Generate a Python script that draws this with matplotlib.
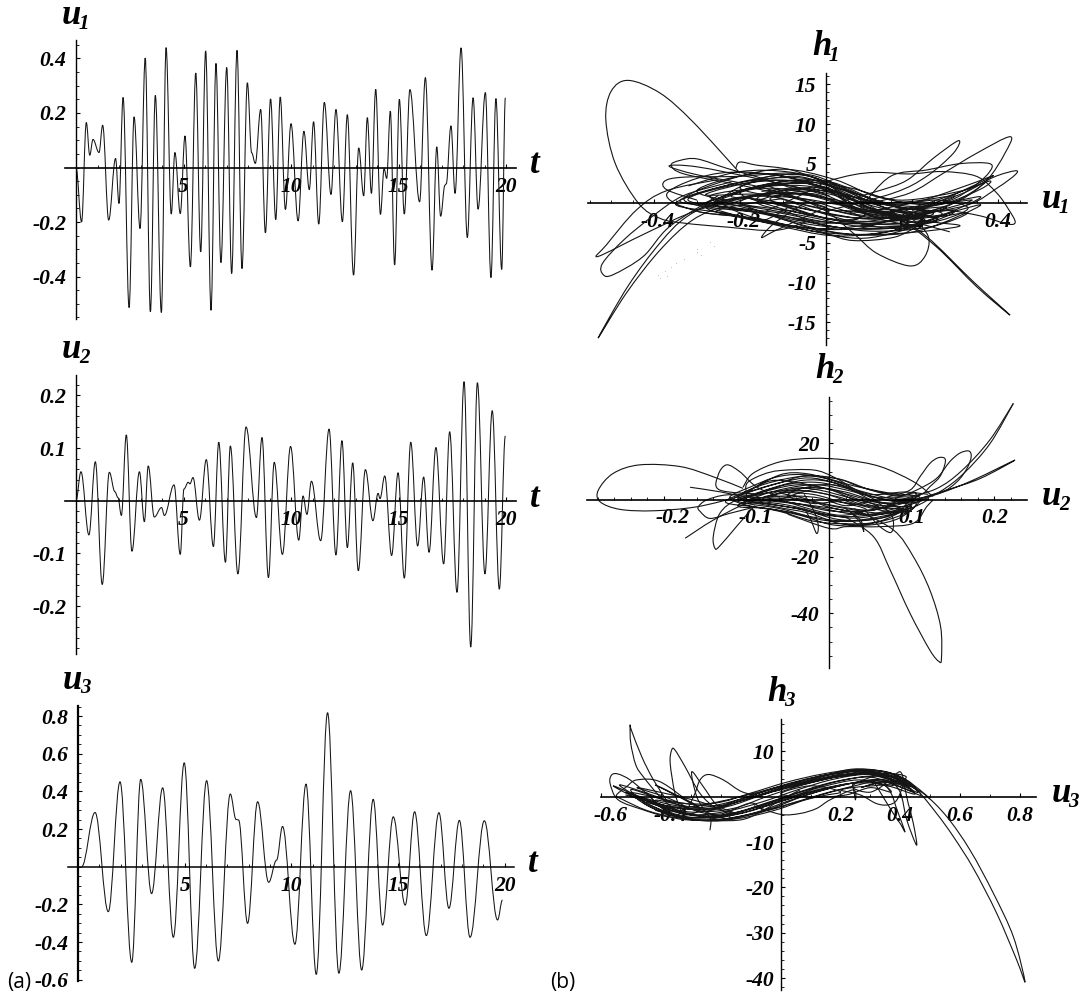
import numpy as np
import matplotlib
matplotlib.use('Agg')
import matplotlib.pyplot as plt
from matplotlib.path import Path
from matplotlib.patches import PathPatch
from matplotlib.ticker import MultipleLocator
from matplotlib.transforms import Affine2D

W, H = 1082, 1000

# time series, read at every turning point
u1_t = [0,.26,.48,.64,.79,1.07,1.24,1.52,1.84,2.0,2.19,2.47,2.70,2.98,3.22,3.46,3.69,3.97,4.19,4.43,4.60,4.85,5.07,5.32,5.57,5.80,6.03,6.28,6.51,6.74,7.01,7.24,7.49,7.72,7.97,8.17,8.34,8.59,8.81,9.05,9.29,9.50,9.74,10.0,10.33,10.6,10.85,11.05,11.29,11.55,11.86,12.09,12.39,12.62,12.91,13.15,13.38,13.55,13.74,13.94,14.16,14.33,14.45,14.62,14.82,15.04,15.27,15.53,15.98,16.25,16.56,16.78,16.96,17.16,17.22,17.44,17.63,17.91,18.2,18.47,18.7,19.04,19.3,19.53,19.8,19.97]
u1_v = [0,-.20,.165,.045,.103,.055,.155,-.193,.033,-.132,.257,-.514,.186,-.224,.402,-.53,.265,-.532,.44,-.171,.055,-.169,.116,-.365,.347,-.31,.428,-.524,.382,-.349,.367,-.389,.43,-.371,.311,.054,.015,.213,-.24,.252,-.191,.259,-.154,.161,-.196,.133,-.081,.168,-.208,.239,-.099,.213,-.199,.194,-.395,.072,-.104,.183,-.095,.287,-.172,-.004,-.04,.207,-.358,.25,-.171,.286,-.126,.33,-.377,.076,-.179,-.065,-.06,.153,-.095,.439,-.257,.256,-.153,.275,-.404,.253,-.374,.256]

u2_t = [0,.23,.60,.90,1.22,1.55,1.81,1.95,2.11,2.34,2.60,2.95,3.18,3.36,3.64,3.98,4.11,4.56,4.85,5.02,5.22,5.3,5.44,5.74,6.06,6.39,6.64,6.95,7.18,7.53,7.91,8.39,8.65,8.95,9.22,9.6,9.98,10.36,10.56,10.74,10.95,11.38,11.77,12.09,12.37,12.62,12.87,13.13,13.46,13.81,14.05,14.14,14.36,14.68,14.98,15.27,15.57,15.89,16.17,16.42,16.74,17.1,17.38,17.72,18.05,18.36,18.67,19.02,19.36,19.69,19.97]
u2_v = [0,.055,-.065,.074,-.159,.054,.017,.006,-.028,.125,-.096,.055,-.04,.066,-.031,-.013,-.028,.03,-.102,.022,.035,.032,.044,-.037,.078,-.087,.111,-.117,.104,-.139,.14,-.032,.12,-.146,.073,-.102,.103,-.075,.009,-.026,.037,-.076,.136,-.103,.114,-.089,.072,-.133,.059,-.038,.014,.004,.047,-.104,.053,-.147,.111,-.086,.045,-.098,.101,-.12,.131,-.174,.226,-.278,.224,-.139,.171,-.168,.123]

u3_t = [.17,.8,1.42,1.97,2.52,2.94,3.45,3.97,4.47,4.98,5.47,6.03,6.58,7.14,7.41,7.53,7.95,8.42,8.94,9.31,9.59,10.17,10.69,11.17,11.7,12.23,12.78,13.3,13.84,14.28,14.78,15.34,15.78,16.33,16.92,17.39,17.88,18.38,19.05,19.67,19.9]
u3_v = [0,.288,-.239,.451,-.508,.464,-.143,.419,-.375,.552,-.54,.457,-.501,.386,.251,.248,-.301,.345,-.083,.035,.214,-.412,.439,-.572,.818,-.566,.404,-.549,.358,-.31,.265,-.204,.292,-.366,.287,-.221,.246,-.375,.244,-.283,-.177]

# phase portrait h1 against u1
h1_big_loop = [(-.20,3.8),(-.31,10.3),(-.386,13.9),(-.46,15.5),(-.50,14.1),(-.512,10.5),(-.49,5),(-.436,0),(-.386,-1.9),(-.33,-2.5),(-.23,-3),(-.115,-3.4),(-.03,-2)]
h1_left_tail = [(-.115,1.7),(-.23,-.2),(-.31,-2.1),(-.386,-5.9),(-.464,-11.3),(-.53,-17),(-.46,-10.4),(-.386,-5),(-.324,-1.7),(-.23,.8),(-.115,2.4),(0,1)]
h1_loop_a = [(-.25,1),(-.363,-2.9),(-.425,-6.7),(-.495,-9),(-.518,-9),(-.52,-7.6),(-.47,-4.6),(-.40,-1.5),(-.33,1),(-.22,2.7)]
h1_loop_b = [(-.15,1.2),(-.3,-.9),(-.42,-3.8),(-.53,-6.7),(-.51,-5.2),(-.44,-.8),(-.37,1.6),(-.25,3)]
h1_right_tail = [(.08,-.4),(.172,-2.1),(.257,-5.5),(.35,-10.5),(.428,-14.1),(.343,-9.9),(.234,-4.2),(.156,-1.7),(.05,-.5)]
h1_low_loop = [(-.13,2.1),(-.006,-.8),(.064,-3.8),(.118,-6.3),(.195,-7.9),(.23,-6.7),(.238,-4.2),(.2,-2),(.14,-1)]
h1_lobe_f = [(0,-1),(.157,1.3),(.234,3.4),(.296,6.3),(.308,7.9),(.25,5.7),(.188,2.9),(.118,1.5),(.02,0)]
h1_lobe_g = [(.1,-1),(.234,-1),(.312,.4),(.374,2.9),(.416,6.3),(.428,8.4),(.35,6.3),(.273,3.8),(.195,1.3),(.1,0)]
h1_lobe_h = [(.2,-1.5),(.33,-.2),(.40,2),(.44,3.6),(.44,4.1),(.39,3.3),(.32,1.3),(.22,-.5)]
h1_top_arc = [(-.14,-1),(-.04,1.5),(0,2.7),(.064,3.6),(.118,3.9),(.195,3.7),(.27,4),(.35,3.4),(.397,1.3),(.425,-.8),(.44,-2.4),(.42,-2.6),(.36,-1.6),(.28,-.8)]
h1_lobe_i = [(.08,-.5),(.15,3.4),(.234,4.2),(.312,5),(.381,5),(.378,3.8),(.34,2),(.29,.4),(.2,-.9)]
h1_low_arc = [(-.1,-2),(0,-3.8),(.064,-4.7),(.157,-4.3),(.21,-3)]
h1_spur_r = [(.05,-1),(.16,-1.8),(.288,-3.6)]
h1_lobe_l1 = [(0,-.5),(-.15,2),(-.3,3.6),(-.365,4.7),(-.30,4.6),(-.15,3),(-.03,1.5)]
h1_lobe_l2 = [(-.05,.5),(-.2,2.3),(-.33,3.7),(-.36,4.8),(-.34,5.4),(-.30,5.6),(-.23,4.4),(-.14,3),(-.03,1)]
h1_lobe_l3 = [(-.21,4.4),(-.2,5.2),(-.16,4.8),(-.08,4.2),(0,2.5),(.06,.5)]
h1_lobe_l4 = [(-.3,.4),(-.37,1.7),(-.375,2.8),(-.33,3.3),(-.2,3.4),(-.08,3.8),(0,2.7),(.1,.2)]
h1_spur_l = [(-.05,0),(-.12,-2.5),(-.15,-4.3),(-.12,-3.5),(-.06,-2),(0,-.5)]
h1_small = [(-.09,-.6),(-.15,-2.2),(-.215,-1.5),(-.255,-1),(-.2,-.2),(-.1,.6)]
h1_tangle = [(-.30,-.3),(-.18,1.8),(-.05,2.2),(.08,.6),(.22,-.9),(.30,-1.0),
    (.22,-2.6),(.08,-2.9),(-.05,-1.6),(-.18,-.4),(-.26,.2),(-.14,2.4),(0,2.8),(.12,.3),(.24,-1.6),(.33,-1.2),
    (.24,-3.0),(.10,-3.5),(-.04,-2.4),(-.2,-.7),(-.34,.3),(-.2,2.6),(-.06,3.2),(.06,1.4),(.18,-.6),(.28,-.5),
    (.18,-2.0),(.05,-2.2),(-.08,-1.0),(-.2,.1),(-.1,1.6),(.02,1.4),(.14,-.6),(.2,-1.4),(.1,-2.0),(-.02,-1.0),
    (-.14,.4),(-.22,1.0),(-.08,2.9),(.03,1.8),(.16,-1.0),(.26,-2.0),(.14,-3.2),(-.02,-2.8),(-.16,-1.2),(-.28,-.2),
    (-.16,1.9),(-.03,2.4),(.1,-.2),(.2,-1.2),(.3,-.9),(.18,-2.9),(.04,-3.1),(-.1,-1.6),(-.24,-.5),(-.32,.6),
    (-.18,2.9),(-.04,3.6),(.08,1.0),(.2,-.4),(.34,.4),(.2,-1.6),(.06,-1.8),(-.06,-.6),(-.16,.6),(-.06,1.9),
    (.04,.9),(.13,-1.1),(.23,-2.1),(.12,-2.6),(0,-1.9),(-.12,-.4),(-.2,1.5),(-.06,2.6),(.06,.9),(.15,-.3),
    (.25,-1.3),(.15,-2.3),(.02,-2.5),(-.11,-1.2),(-.26,-.1),(-.12,1.2),(0,.6),(.1,-1.3),(.18,-2.1),(.07,-1.4),
    (-.04,-.3),(-.15,1.1),(-.28,1.1),(-.14,2.9),(-.01,2.1),(.11,-.8),(.22,-1.9),(.36,-.2),(.22,-3.4),(.08,-4.0),
    (-.06,-3.0),(-.18,-1.8),(-.3,-.9),(-.18,.8),(-.07,1.3),(.05,.1),(.17,-1.6),(.1,-.9),(-.03,.4),(-.1,.9)]
h1_tangle_wide = [(-.32,2.2),(-.2,4.0),(-.08,3.9),(.03,2.2),(.14,-.2),(.27,-1.3),(.16,-3.4),(.02,-4.1),(-.12,-2.7),(-.25,-.9),(-.33,.6),
    (-.22,3.1),(-.1,4.3),(.02,3.0),(.12,.8),(.24,-.2),(.36,.8),(.25,-1.9),(.12,-3.8),(-.02,-3.6),(-.15,-2.0),(-.3,-1.0),
    (-.37,1.2),(-.26,3.7),(-.12,3.6),(0,1.6),(.1,-1.4),(.21,-2.6),(.09,-4.4),(-.04,-3.4),(-.19,-1.4),(-.24,.6),
    (-.14,3.3),(-.03,3.3),(.07,.3),(.19,.2),(.3,.9),(.2,-1.2),(.07,-3.2),(-.07,-2.9),(-.23,-1.3),(-.35,-.1),
    (-.24,2.0),(-.1,2.9),(.05,2.0),(.17,.4),(.31,1.5),(.37,2.6),(.28,-.3),(.13,-2.4),(-.01,-3.2),(-.14,-2.4),(-.28,-.5),
    (-.16,1.1),(-.05,1.1),(.09,-1.0),(.24,-2.3),(.31,-2.9),(.17,-3.8),(.04,-3.8),(-.09,-2.2),(-.2,-.1),(-.3,1.6),
    (-.17,3.7),(-.05,2.8),(.06,.4),(.16,-.2),(.26,.4),(.33,-.7),(.23,-2.6),(.1,-2.6),(-.03,-2.2),(-.16,-.9),(-.27,.9),
    (-.13,1.9),(-.01,.8),(.12,-1.9),(.22,-3.1),(.12,-3.0),(0,-1.4),(-.1,.5),(-.2,2.0),(-.07,3.4),(.05,1.2),(.15,-1.4),(.28,-1.6)]
h1_right_fan = [(.1,-.9),(.2,-.5),(.3,1.2),(.38,2.8),(.36,1.8),(.27,-.1),(.15,-1),(.24,-.2),(.33,1.9),(.39,3.5),(.33,2.3),(.22,.3),(.12,-.8)]
h1_core = [(-.15,1.5),(-.05,1.9),(.03,.3),(.09,-1.5),(.02,-2.1),(-.06,-.9),(-.13,.6),(-.03,1.2),(.05,-.6),(.12,-1.9),(.04,-1.2),(-.04,.1),(-.1,1.3),(0,2),(.06,-.3),(.14,-1.7),(.06,-2.4),(-.03,-1.5),(-.11,-.2),(-.18,.8),(-.07,.7),(.01,-.4),(.08,-1.8),(-.01,-2.5),(-.09,-1.1),(-.16,.2),(-.06,1.5),(.02,1),(.1,-.9),(.16,-1.2),(.08,-1),(0,-.8),(-.08,.2)]
h1_parts = [h1_big_loop, h1_left_tail, h1_loop_a, h1_loop_b, h1_right_tail, h1_low_loop, h1_lobe_f, h1_lobe_g,
            h1_lobe_h, h1_top_arc, h1_lobe_i, h1_low_arc, h1_spur_r, h1_lobe_l1, h1_lobe_l2, h1_lobe_l3,
            h1_lobe_l4, h1_spur_l, h1_small, h1_tangle, h1_tangle_wide, h1_right_fan, h1_core]
h1_specks_u = [-.39,-.385,-.375,-.37,-.36,-.33,-.30,-.3,-.29,-.26,-.27,-.35]
h1_specks_h = [-9,-9.4,-8.6,-9.2,-8,-7,-6.2,-5.8,-6.5,-5.4,-4.9,-7.5]

# phase portrait h2 against u2
h2_big_loop = [(-.104,4.1),(-.14,8.2),(-.18,11.8),(-.229,12.4),(-.261,9.4),(-.279,3.5),(-.277,-.6),(-.253,-3.3),(-.212,-3.8),(-.16,-2.4),(-.108,1.2)]
h2_top_arc = [(-.104,4.5),(-.092,9.4),(-.059,13.5),(-.019,14.7),(.021,14.1),(.062,11.8),(.102,6.5),(.126,1.2)]
h2_tail_a = [(.223,34.1),(.195,20),(.163,9.4),(.134,2.9),(.102,-1.2)]
h2_tail_b = [(.223,34.1),(.194,21),(.16,10.2),(.13,4),(.09,.4)]
h2_tip = [(.08,-.5),(.102,0),(.142,3.5),(.183,7.6),(.225,14.1),(.175,7.1),(.134,2.4),(.09,-1)]
h2_lobe_a = [(.08,.5),(.106,3.5),(.13,7.6),(.146,13.5),(.158,16.5),(.169,17.3),(.172,15.3),(.167,11.2),(.155,6.5),(.134,2.4),(.09,-.8)]
h2_lobe_b = [(.07,1),(.098,3.5),(.11,8.2),(.122,12.9),(.132,14.9),(.14,14.7),(.14,12.4),(.134,8.2),(.122,4.7),(.11,1.8),(.07,-1.6)]
h2_drop = [(.02,-6),(.054,-13),(.074,-24.7),(.098,-40),(.122,-53),(.133,-57),(.136,-56),(.135,-44.7),(.122,-31.8),(.102,-20),(.078,-10.6),(.03,-3)]
h2_lobe_c = [(-.09,-2),(-.112,-9.4),(-.133,-16.5),(-.138,-17),(-.14,-12.9),(-.132,-4.7),(-.112,0),(-.08,2)]
h2_spur_a = [(-.174,-13.5),(-.14,-7.1),(-.1,-1.2),(-.07,.5)]
h2_spur_b = [(-.168,4.5),(-.132,2.9),(-.1,1),(-.07,-.6)]
h2_loop_d = [(-.09,1.5),(-.124,1.8),(-.148,0),(-.158,-2.4),(-.156,-4),(-.144,-6.5),(-.12,-4.7),(-.09,-2.5)]
h2_loop_e = [(-.08,2),(-.132,3.5),(-.134,8.8),(-.124,12.4),(-.108,10),(-.088,4.7),(-.06,1)]
h2_loop_f = [(-.1,2),(-.099,6),(-.08,9),(-.059,10.4),(-.019,10.6),(.005,8.2),(.033,3.5),(.06,-.5)]
h2_spur_c = [(-.03,2),(-.018,-4),(-.013,-9),(-.015,-11.8),(-.022,-7),(-.03,-3)]
h2_spur_d = [(.025,-4),(.038,-8),(.042,-11.2),(.038,-7),(.02,-3)]
h2_lobe_g = [(.045,-4),(.06,-9),(.074,-11.5),(.078,-9),(.075,-5),(.06,-1)]
h2_low_arc = [(-.05,-5),(0,-10),(.021,-9.4),(.062,-9.4),(.102,-8.2),(.118,-2.4),(.126,0)]
h2_tangle = [(-.11,-.3),(-.08,3),(-.05,5.5),(-.02,6.3),(.01,5),(.05,1.5),(.09,-.8),(.12,.3),(.09,-4),(.05,-7),(.01,-6.8),(-.03,-3.5),(-.07,-1.5),(-.11,.3),
    (-.09,2.2),(-.06,5),(-.03,7),(0,6.5),(.04,3),(.08,.3),(.115,.2),(.08,-3),(.04,-5.6),(0,-5.5),(-.04,-3),(-.08,-1.2),(-.105,-1),
    (-.08,.8),(-.05,3.2),(-.02,4.4),(.02,2.8),(.06,-.7),(.1,-1.6),(.07,-4.5),(.03,-6.4),(-.01,-4.6),(-.05,-1.8),(-.09,-.2),(-.11,1.3),
    (-.085,4),(-.055,6.4),(-.025,7.8),(.005,6.2),(.04,2.2),(.075,-.3),(.105,.4),(.075,-2.3),(.04,-4),(0,-3.8),(-.04,-1.2),(-.08,.6),
    (-.06,2.2),(-.03,3.2),(.01,1.2),(.05,-2.4),(.09,-3.4),(.06,-6),(.02,-7.4),(-.02,-6),(-.06,-3),(-.1,-1.2),(-.115,.5),
    (-.09,3.4),(-.06,6),(-.03,8.4),(.01,7.5),(.04,4.4),(.08,1.4),(.11,1.6),(.08,-1.4),(.05,-3.6),(.01,-2.2),(-.03,.2),(-.07,1.8),(-.04,4.2),(-.01,3.4),
    (.03,.4),(.07,-2.2),(.1,-2.4),(.065,-5),(.025,-4.8),(-.015,-2.5),(-.055,-.5),(-.095,.8),(-.07,3.6),(-.035,5.4),(0,3.8),(.035,-.5),(.07,-3.4)]
h2_tangle_wide = [(-.105,2.5),(-.08,5.4),(-.05,7.6),(-.02,8.6),(.015,7.2),(.05,3.6),(.085,1.6),(.105,2.4),(.095,-2.6),(.06,-7.6),(.02,-8.4),(-.02,-7.4),(-.06,-4),(-.1,-1.8),(-.12,1),
    (-.095,4.6),(-.065,8),(-.035,9),(0,7.4),(.03,5),(.07,2.6),(.11,.8),(.09,-5),(.045,-8.6),(.005,-8.8),(-.035,-5.4),(-.075,-3),(-.11,-2.2),
    (-.085,1.4),(-.05,4.2),(-.015,5.4),(.02,3.6),(.055,1),(.095,.2),(.075,-5.4),(.035,-7.4),(-.005,-7.2),(-.045,-4.4),(-.085,-2.6),(-.125,-.8),
    (-.1,3),(-.07,6.8),(-.04,6.2),(-.01,4.4),(.025,1.8),(.065,-1.2),(.105,-1),(.085,-6.4),(.05,-8.8),(.012,-8.2),(-.025,-4.6),(-.065,-2.4),(-.105,.2),
    (-.075,2.6),(-.04,3.4),(-.005,2.2),(.03,-1.2),(.07,-4),(.1,-4),(.06,-4.6),(.02,-3),(-.02,-.8),(-.06,.6),(-.1,1.8),(-.06,8.8),(-.025,9.2),(.015,5.8),(.05,2),(.09,2.8),(.12,2)]
h2_core = [(-.06,0),(-.03,3),(0,4),(.03,.8),(.06,-2.5),(.03,-4),(0,-2.5),(-.03,.6),(-.06,2.6),(-.02,2),(.015,-.8),(.045,-3.4),(.015,-5.4),(-.02,-3.4),(-.05,-.8),(-.075,1),(-.04,1.4),(-.01,.6),(.02,-2),(.05,-.6),(.08,-1.8),(.045,-2),(.01,-.6),(-.02,-1.2),(-.05,1.8),(-.015,5.2),(.02,4.6),(.05,.2),(.085,-2.8),(.05,-5),(.01,-3.2),(-.03,-1.6),(-.07,-.4)]
h2_parts = [h2_big_loop, h2_top_arc, h2_tail_a, h2_tail_b, h2_tip, h2_lobe_a, h2_lobe_b, h2_drop, h2_lobe_c, h2_spur_a,
            h2_spur_b, h2_loop_d, h2_loop_e, h2_loop_f, h2_spur_c, h2_spur_d, h2_lobe_g, h2_low_arc, h2_tangle, h2_tangle_wide, h2_core]

# phase portrait h3 against u3
h3_tail = [(.40,3.6),(.478,.7),(.556,-4.4),(.634,-11.8),(.712,-21.3),(.779,-30.9),(.818,-40.8),(.79,-36),(.723,-25.7),(.645,-15.8),(.578,-8.8),(.522,-3.7),(.455,1.5),(.38,4.6)]
h3_spike_a = [(-.38,-1),(-.426,3.7),(-.465,8.8),(-.5,14.7),(-.504,15.6),(-.502,11.8),(-.485,7),(-.46,4.4),(-.404,0),(-.348,-2.9),(-.28,-4)]
h3_spike_b = [(-.33,-3.6),(-.354,.7),(-.37,7.4),(-.365,10.3),(-.354,10.3),(-.32,6.6),(-.27,.7),(-.214,-2.6),(-.16,-3.6)]
h3_spike_c = [(-.248,-3.7),(-.281,0),(-.298,5.5),(-.259,2.2),(-.214,-1.8),(-.16,-3.4)]
h3_arc = [(-.31,-2.5),(-.287,.7),(-.27,3.7),(-.242,4.9),(-.192,3.7),(-.13,1.1),(-.06,0)]
h3_loop_a = [(-.34,-3.4),(-.393,-2.6),(-.449,.7),(-.504,3.7),(-.544,5),(-.566,4.8),(-.571,2.9),(-.544,-.7),(-.46,-2.9),(-.38,-4.4),(-.28,-5)]
h3_loop_b = [(-.3,-1.5),(-.404,3.3),(-.482,3.7),(-.516,2.2),(-.55,.3),(-.53,-.6),(-.45,-3),(-.36,-4.6)]
h3_low_edge = [(-.36,-4.6),(-.315,-5.1),(-.181,-5.3),(-.114,-4.8),(-.047,-2.6),(0,-.7),(.065,1.5)]
h3_spur_l = [(-.25,-3.5),(-.234,-5.1),(-.237,-7.4)]
h3_low_arc = [(-.09,-2),(0,-3.9),(.065,-3.7),(.12,-2.6),(.165,-.7),(.243,1.5),(.25,-.7),(.24,3)]
h3_spike_r1 = [(.31,3.5),(.377,-3.7),(.4,-5.9),(.416,-7.7),(.39,-3),(.37,.7),(.34,3.5)]
h3_spike_r2 = [(.36,4),(.4,1),(.422,-5.1),(.455,-10.7),(.444,-5.9),(.427,-1.5),(.41,2.9),(.38,4.5)]
h3_arc_r = [(.2,1.4),(.266,.4),(.32,-1.5),(.36,-1.8),(.389,-.7),(.41,3),(.4,5.5),(.37,4)]
h3_top = [(.05,2.6),(.154,4.8),(.243,6.1),(.333,5.7),(.411,4),(.466,1.5),(.5,-.5)]
h3_tangle = [(-.42,-3),(-.3,-4.6),(-.18,-4),(-.06,-1.8),(.06,1),(.18,3.3),(.3,4.3),(.4,2.2),(.47,.3),
    (.42,3.5),(.3,5.6),(.18,4.4),(.06,2.8),(-.06,.4),(-.18,-2.2),(-.3,-3.4),(-.46,-1.2),
    (-.36,-4.3),(-.24,-4.9),(-.12,-3.4),(0,-1),(.12,1.5),(.24,3),(.34,3.4),(.44,1.2),
    (.36,4.7),(.24,5.1),(.12,3.8),(0,1.9),(-.12,-.6),(-.24,-2.8),(-.4,-1.8),(-.52,1),
    (-.42,-1.2),(-.3,-3.9),(-.18,-3.2),(-.06,-1.1),(.06,1.6),(.18,3.9),(.3,4.9),(.42,2.8),
    (.32,5.3),(.2,4.5),(.08,2.7),(-.04,.2),(-.16,-2.6),(-.28,-3),(-.44,.6),(-.54,2.6),
    (-.46,-.6),(-.34,-3.6),(-.22,-4.3),(-.1,-2.7),(.02,-.3),(.14,2.2),(.26,3.7),(.36,2.4),(.45,.6),
    (.38,4.2),(.26,5.6),(.14,4.1),(.02,2.2),(-.1,-.2),(-.22,-2.4),(-.34,-2.6),(-.48,-.4),
    (-.38,-3.8),(-.26,-4.6),(-.14,-3.8),(-.02,-1.5),(.1,.9),(.22,2.8),(.32,3.1),(.4,3.6),
    (.3,5.1),(.16,4.1),(.04,2.4),(-.08,.1),(-.2,-1.9),(-.32,-1.5),(-.5,.9),(-.4,-2.2),(-.28,-4.2),
    (-.16,-3.6),(-.04,-1.2),(.08,1.3),(.2,3.5),(.32,4.5),(.43,2),(.34,4.6),(.22,4.7),(.1,3.1),(-.02,1.2)]
h3_tangle_wide = [(-.4,-3.6),(-.28,-5.2),(-.16,-4.6),(-.04,-2.8),(.08,.2),(.2,2.4),(.32,3.8),(.44,2.4),
    (.38,5),(.26,6),(.14,5),(.02,3.2),(-.1,.8),(-.22,-1.4),(-.36,-1.2),(-.5,1.6),
    (-.44,-1.8),(-.32,-4.8),(-.2,-5),(-.08,-3.4),(.04,-.6),(.16,1.8),(.28,3.4),(.38,3),(.46,.9),
    (.4,3.8),(.28,5.8),(.16,4.9),(.04,3),(-.08,.9),(-.2,-1),(-.32,-2.2),(-.46,-.2),(-.56,2.4),
    (-.5,.2),(-.38,-3.4),(-.26,-5.3),(-.14,-4.8),(-.02,-3),(.1,-.3),(.22,1.8),(.34,2.6),(.42,3.4),
    (.32,5.8),(.2,5.2),(.08,3.4),(-.04,1.4),(-.16,-1),(-.28,-2.4),(-.42,-.8),
    (-.34,-4.6),(-.22,-5.2),(-.1,-4),(.02,-1.8),(.14,.6),(.26,2.6),(.36,3.9),(.45,1.9),
    (.36,5.4),(.24,5.6),(.12,4.4),(0,2.4),(-.12,-.2),(-.24,-2.6),(-.38,-2),(-.52,.4)]
h3_core = [(-.45,1),(-.4,-2.4),(-.33,-4.1),(-.27,-2.6),(-.35,.4),(-.42,2.6),(-.33,-.4),(-.24,-3.6),(-.17,-4.9),(-.2,-2.8),(-.3,-.6),(-.48,2),(-.38,-.2),(-.28,-3.2),(-.2,-3.8),(-.1,-1.4),(-.05,-3),(.05,-1.2),(.14,.2),(.2,1.1),(.1,2.4),(0,.6),(.12,-.1),(.22,.4),(.3,2),(.37,1),(.33,3),(.27,2),(.36,3.6),(.3,1),(.24,2.4),(.34,5),(.42,4.4),(.37,2.4),(.3,3.2)]
h3_parts = [h3_tail, h3_spike_a, h3_spike_b, h3_spike_c, h3_arc, h3_loop_a, h3_loop_b, h3_low_edge, h3_spur_l,
            h3_low_arc, h3_spike_r1, h3_spike_r2, h3_arc_r, h3_top, h3_tangle, h3_tangle_wide, h3_core]

t_ticks = [5, 10, 15, 20]
u1_yticks = [-.4, -.2, .2, .4]
u2_yticks = [-.2, -.1, .1, .2]
u3_yticks = [-.6, -.4, -.2, .2, .4, .6, .8]
p1_xticks = [-.4, -.2, .2, .4]
p1_yticks = [-15, -10, -5, 5, 10, 15]
p2_xticks = [-.2, -.1, .1, .2]
p2_yticks = [-40, -20, 20]
p3_xticks = [-.6, -.4, .2, .4, .6, .8]
p3_yticks = [-40, -30, -20, -10, 10]

TICK_FONT = dict(family='Liberation Serif', weight='bold', style='italic', size=15.5)
LINE_COLOR = '#151515'

fig = plt.figure(figsize=(W / 100, H / 100), dpi=100)


def make_axes(x0, x1, y0, y1, ox, oy, sx, sy, xt, yt, xminor, yminor, xpad, ypad, axis_lw=(1.2, 1.0), neg_shift=0):
    ax = fig.add_axes([x0 / W, 1 - y1 / H, (x1 - x0) / W, (y1 - y0) / H])
    ax.patch.set_visible(False)
    ax.set_xlim((x0 - ox) / sx, (x1 - ox) / sx)
    ax.set_ylim((oy - y1) / sy, (oy - y0) / sy)
    for side in ['top', 'right']:
        ax.spines[side].set_visible(False)
    ax.spines['bottom'].set_position(('data', 0))
    ax.spines['left'].set_position(('data', 0))
    ax.spines['bottom'].set_linewidth(axis_lw[0])
    ax.spines['left'].set_linewidth(axis_lw[1])
    ax.set_axisbelow(True)
    ax.set_xticks(xt)
    ax.set_yticks(yt)
    ax.set_xticklabels(['%g' % v for v in xt], **TICK_FONT)
    ax.set_yticklabels(['%g' % v for v in yt], **TICK_FONT)
    ax.xaxis.set_minor_locator(MultipleLocator(xminor))
    ax.yaxis.set_minor_locator(MultipleLocator(yminor))
    ax.tick_params(which='major', direction='in', length=3, width=.8)
    ax.tick_params(which='minor', direction='in', length=2, width=.6)
    ax.tick_params(axis='x', which='major', pad=xpad)
    ax.tick_params(axis='y', which='major', pad=ypad)
    if neg_shift:
        for lab, v in zip(ax.get_xticklabels(), xt):
            if v < 0:
                lab.set_transform(lab.get_transform() + Affine2D().translate(neg_shift, 0))
    return ax


def turning_path(ax, t, v):
    # flat tangent at each read turning point
    verts = [(t[0], v[0])]
    codes = [Path.MOVETO]
    for i in range(len(t) - 1):
        d = (t[i + 1] - t[i]) * .37
        verts += [(t[i] + d, v[i]), (t[i + 1] - d, v[i + 1]), (t[i + 1], v[i + 1])]
        codes += [Path.CURVE4] * 3
    ax.add_patch(PathPatch(Path(verts, codes), fill=False, ec=LINE_COLOR, lw=.75, clip_on=False))


def smooth_path(ax, pts):
    p = np.array(pts, float)
    verts = [p[0]]
    codes = [Path.MOVETO]
    for i in range(len(p) - 1):
        a = p[max(i - 1, 0)]
        b = p[min(i + 2, len(p) - 1)]
        verts += [p[i] + (p[i + 1] - a) / 6, p[i + 1] - (b - p[i]) / 6, p[i + 1]]
        codes += [Path.CURVE4] * 3
    ax.add_patch(PathPatch(Path(verts, codes), fill=False, ec=LINE_COLOR, lw=.8, clip_on=False))


def label(x, y, s, sub=None, subx=None, suby=None):
    fig.text(x / W, 1 - y / H, s, family='Liberation Serif', weight='bold', style='italic', size=25, va='baseline')
    if sub:
        fig.text(subx / W, 1 - suby / H, sub, family='Liberation Serif', weight='bold', style='italic', size=15, va='baseline')


ax1 = make_axes(65, 516, 40, 319, 76, 167.5, 21.5, 272.5, t_ticks, u1_yticks, 1, .05, 6.5, 7)
ax2 = make_axes(65, 516, 375, 654, 76, 500.7, 21.5, 526.7, t_ticks, u2_yticks, 1, .02, 6.5, 7)
ax3 = make_axes(68, 514, 706, 981, 78, 866.7, 21.33, 188.3, t_ticks, u3_yticks, 1, .05, 6.5, 7, axis_lw=(1.1, 1.6))
turning_path(ax1, u1_t, u1_v)
turning_path(ax2, u2_t, u2_v)
turning_path(ax3, u3_t, u3_v)

ax4 = make_axes(588, 1027, 73, 345, 826, 203.3, 430, 7.93, p1_xticks, p1_yticks, .05, 1, 6, 7, neg_shift=4)
ax5 = make_axes(587, 1027, 396.7, 667.7, 829, 500, 826.7, 2.833, p2_xticks, p2_yticks, .02, 5, 6, 7, neg_shift=9)
ax6 = make_axes(600.7, 1036, 719, 990, 780.7, 796.7, 298.7, 4.533, p3_xticks, p3_yticks, .1, 2, 7, 5, neg_shift=9)
for part in h1_parts:
    smooth_path(ax4, part)
for part in h2_parts:
    smooth_path(ax5, part)
for part in h3_parts:
    smooth_path(ax6, part)
ax4.scatter(h1_specks_u, h1_specks_h, s=.6, color='#bbbbbb', linewidths=0)

label(62, 24, 'u', '1', 79, 29)
label(62, 358, 'u', '2', 79, 363)
label(63, 689, 'u', '3', 80, 693)
label(530, 173, 't')
label(530, 507, 't')
label(528, 872, 't')
label(812, 55, 'h', '1', 829, 61)
label(815, 378, 'h', '2', 832, 383)
label(767, 701, 'h', '3', 784, 706)
label(1042, 208, 'u', '1', 1059, 213)
label(1042, 505, 'u', '2', 1059, 510)
label(1052, 802, 'u', '3', 1068, 807)

fig.text(7 / W, 1 - 988 / H, '(a)', family='Open Sans', size=15, va='baseline')
fig.text(550 / W, 1 - 988 / H, '(b)', family='Open Sans', size=15, va='baseline')

fig.savefig('out.png', dpi=100)
